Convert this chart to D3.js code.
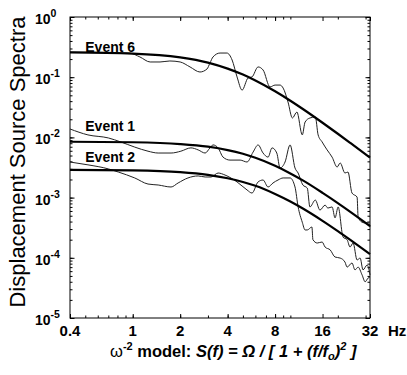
<!DOCTYPE html>
<html>
<meta charset="utf-8">
<style>
body {
  margin: 0;
  background: #fff;
}
svg {
  display: block;
}
text {
  font-family: Arial, "Liberation Sans", Helvetica, sans-serif;
  fill: #000;
  white-space: pre;
}
.tick-label {
  font-size: 15px;
  font-weight: bold;
}
.x-title {
  font-size: 16.5px;
  font-weight: bold;
}
.y-label {
  font-size: 14px;
  font-weight: bold;
}
.event-label {
  font-size: 14px;
  font-weight: bold;
}
.axis path {
  display: none;
}
.axis line {
  stroke: #000;
  stroke-width: 1;
}
.model {
  fill: none;
  stroke: #000;
  stroke-width: 2.2;
}
.observed {
  fill: none;
  stroke: #222;
  stroke-width: 1;
}
</style>
<body>

<script src="https://d3js.org/d3.v7.min.js"></script>
<script>
// axis ticks
var xTicks = [0.4, 1, 2, 4, 8, 16, 32];
var xTickLabels = ["0.4", "1", "2", "4", "8", "16", "32"];
var yTicks = [1e-5, 1e-4, 1e-3, 1e-2, 1e-1, 1];
var yExponents = ["-5", "-4", "-3", "-2", "-1", "0"];

// event labels
var eventNames = ["Event 6", "Event 1", "Event 2"];
var labelFreq = 0.5;
var labelAmp = [0.26, 0.0128, 0.0039];

// omega^-2 model curves
var modelFreq = [0.4, 1, 2, 3, 4, 5, 6, 8, 10, 12, 16, 20, 24, 32];
var model6 = [0.258, 0.247, 0.214, 0.175, 0.139, 0.1105, 0.0882, 0.0583, 0.0406, 0.0296, 0.0175, 0.0115, 0.00809, 0.00461];
var model1 = [0.00847, 0.0083, 0.00776, 0.00701, 0.00616, 0.00534, 0.00459, 0.00338, 0.00252, 0.00193, 0.0012, 0.000812, 0.000581, 0.000337];
var model2 = [0.00289, 0.00283, 0.00265, 0.00239, 0.0021, 0.00182, 0.00157, 0.00115, 0.000861, 0.000658, 0.000411, 0.000277, 0.000198, 0.000115];

// observed spectra
var ev6Freq = [0.4, 0.96, 1.11, 1.29, 1.49, 1.72, 2.0, 2.31, 2.67, 2.96, 3.09, 3.23, 3.58, 3.96, 4.27, 4.59, 4.94, 5.39, 5.71, 6.24, 6.71, 7.43, 8.0, 8.6, 9.0, 9.66, 10.3, 11.0, 11.9, 12.4, 13.3, 14.4, 15.0, 15.9, 17.1, 18.4, 19.8, 20.7, 22.2, 23.2, 24.6, 26.5, 26.9, 28.5, 29.8, 31.1, 32];
var ev6Amp = [0.26, 0.25, 0.217, 0.179, 0.179, 0.186, 0.179, 0.148, 0.122, 0.137, 0.172, 0.217, 0.252, 0.252, 0.193, 0.101, 0.061, 0.097, 0.101, 0.148, 0.132, 0.069, 0.074, 0.074, 0.066, 0.0387, 0.021, 0.0264, 0.011, 0.018, 0.021, 0.0218, 0.011, 0.0084, 0.0062, 0.0047, 0.00322, 0.00376, 0.00256, 0.00266, 0.00119, 0.00102, 0.00048, 0.00039, 0.00038, 0.00039, 0.000325];

var ev1Freq = [0.4, 0.52, 0.70, 0.84, 1.03, 1.25, 1.45, 1.75, 2.02, 2.34, 2.60, 2.88, 3.09, 3.23, 3.48, 3.74, 4.14, 4.8, 5.31, 5.8, 6.24, 6.71, 7.22, 7.65, 8.2, 8.6, 9.25, 9.96, 10.7, 11.2, 12.0, 12.8, 13.3, 14.4, 15.4, 16.6, 17.3, 18.4, 19.2, 20.1, 21.6, 22.9, 23.9, 25.0, 26.5, 27.7, 28.9, 30.7, 32];
var ev1Amp = [0.0138, 0.011, 0.0098, 0.0084, 0.0069, 0.0059, 0.0055, 0.0055, 0.0059, 0.0067, 0.0062, 0.0055, 0.0067, 0.0075, 0.0067, 0.0047, 0.0042, 0.0042, 0.0039, 0.0057, 0.0075, 0.0055, 0.0047, 0.0067, 0.0055, 0.0031, 0.0039, 0.0075, 0.0031, 0.00256, 0.00162, 0.00144, 0.0007, 0.00091, 0.00062, 0.00075, 0.00067, 0.0007, 0.00046, 0.0007, 0.00022, 0.0002, 0.000151, 0.000176, 0.000092, 0.000099, 0.000063, 0.000076, 0.000052];

var ev2Freq = [0.4, 0.52, 0.70, 0.81, 1.03, 1.25, 1.45, 1.75, 1.94, 2.24, 2.60, 2.88, 3.14, 3.48, 3.85, 4.59, 5.31, 5.71, 6.24, 6.71, 7.22, 7.76, 8.35, 9.0, 9.96, 10.7, 11.2, 11.9, 12.4, 12.8, 13.7, 13.9, 14.8, 15.9, 16.6, 17.9, 19.2, 20.7, 22.2, 22.9, 24.6, 25.7, 26.9, 28.5, 29.8, 31.1, 32];
var ev2Amp = [0.0039, 0.0035, 0.0030, 0.00266, 0.00212, 0.00168, 0.00162, 0.0015, 0.00175, 0.00212, 0.00229, 0.0022, 0.0022, 0.00256, 0.00237, 0.00182, 0.00134, 0.00119, 0.00182, 0.00196, 0.0015, 0.00175, 0.00196, 0.00212, 0.00212, 0.0015, 0.0007, 0.00039, 0.00029, 0.00029, 0.000325, 0.0002, 0.000176, 0.000183, 0.000151, 0.000135, 0.000103, 0.000099, 0.000085, 0.00007, 0.000082, 0.000063, 0.00007, 0.000052, 0.00004, 0.000046, 0.000048];

var margin = {top: 17, right: 37, bottom: 57, left: 70},
    width = 407 - margin.left - margin.right,
    height = 375 - margin.top - margin.bottom;

var x = d3.scaleLog().domain([0.4, 32]).range([0, width]);
var y = d3.scaleLog().domain([1e-5, 1]).range([height, 0]);

var svg = d3.select("body").append("svg")
    .attr("width", 407)
    .attr("height", 375)
  .append("g")
    .attr("transform", "translate(" + margin.left + "," + margin.top + ")");

// ticks, all pointing into the box
function addAxis(axisFn, values, size, transform) {
  svg.append("g")
      .attr("class", "axis")
      .attr("transform", transform || null)
      .call(axisFn.tickValues(values).tickSizeInner(-size).tickSizeOuter(0).tickFormat(""));
}
addAxis(d3.axisBottom(x), x.ticks(), 2.5, "translate(0," + height + ")");
addAxis(d3.axisBottom(x), xTicks, 4, "translate(0," + height + ")");
addAxis(d3.axisTop(x), x.ticks(), 2.5);
addAxis(d3.axisTop(x), xTicks, 4);
addAxis(d3.axisLeft(y), y.ticks(), 2.5);
addAxis(d3.axisLeft(y), yTicks, 4.5);
addAxis(d3.axisRight(y), y.ticks(), 2.5, "translate(" + width + ",0)");
addAxis(d3.axisRight(y), yTicks, 4.5, "translate(" + width + ",0)");

svg.append("rect")
    .attr("width", width)
    .attr("height", height)
    .attr("fill", "none")
    .attr("stroke", "#000")
    .attr("stroke-width", 1);

// x tick labels
svg.append("g").selectAll("text")
    .data(xTicks)
  .enter().append("text")
    .attr("class", "tick-label")
    .attr("x", function(d) { return x(d); })
    .attr("y", height + 18)
    .attr("text-anchor", "middle")
    .text(function(d, i) { return xTickLabels[i]; });

svg.append("text")
    .attr("class", "tick-label")
    .attr("x", width + 18)
    .attr("y", height + 18)
    .text("Hz");

// y tick labels 10^n
var yl = svg.append("g").selectAll("text")
    .data(yTicks)
  .enter().append("text")
    .attr("class", "y-label")
    .attr("x", -35)
    .attr("y", function(d) { return y(d) + 7; });
yl.append("tspan").text("10");
yl.append("tspan")
    .attr("dy", -7)
    .attr("font-size", 10.5)
    .text(function(d, i) { return yExponents[i]; });

// y title
svg.append("text")
    .attr("transform", "rotate(-90)")
    .attr("x", -(162 - margin.top))
    .attr("y", -45)
    .attr("font-size", "22px")
    .attr("text-anchor", "middle")
    .text("Displacement Source Spectra");

// x title
var xl = svg.append("text")
    .attr("class", "x-title")
    .attr("x", 40)
    .attr("y", height + 39);
xl.append("tspan").attr("font-weight", "normal").text("ω");
xl.append("tspan").attr("dy", -7).attr("font-size", 11).text("-2");
xl.append("tspan").attr("dy", 7).text(" model: ");
xl.append("tspan").attr("font-style", "italic").text("S(f) = Ω / [ 1 + (f/f");
xl.append("tspan").attr("dy", 3).attr("font-size", 11).attr("font-style", "italic").text("o");
xl.append("tspan").attr("dy", -3).attr("font-style", "italic").text(")");
xl.append("tspan").attr("dy", -7).attr("font-size", 11).attr("font-style", "italic").text("2");
xl.append("tspan").attr("dy", 7).attr("font-style", "italic").text(" ]");

var line = d3.line()
    .x(function(d) { return x(d[0]); })
    .y(function(d) { return y(d[1]); })
    .curve(d3.curveMonotoneX);

var observed = [[ev6Freq, ev6Amp], [ev1Freq, ev1Amp], [ev2Freq, ev2Amp]];
observed.forEach(function(s) {
  svg.append("path")
      .attr("class", "observed")
      .attr("d", line(d3.zip(s[0], s[1])));
});

[model6, model1, model2].forEach(function(m) {
  svg.append("path")
      .attr("class", "model")
      .attr("d", line(d3.zip(modelFreq, m)));
});

svg.append("g").selectAll("text")
    .data(eventNames)
  .enter().append("text")
    .attr("class", "event-label")
    .attr("x", x(labelFreq))
    .attr("y", function(d, i) { return y(labelAmp[i]); })
    .text(function(d) { return d; });
</script>
</body>
</html>
